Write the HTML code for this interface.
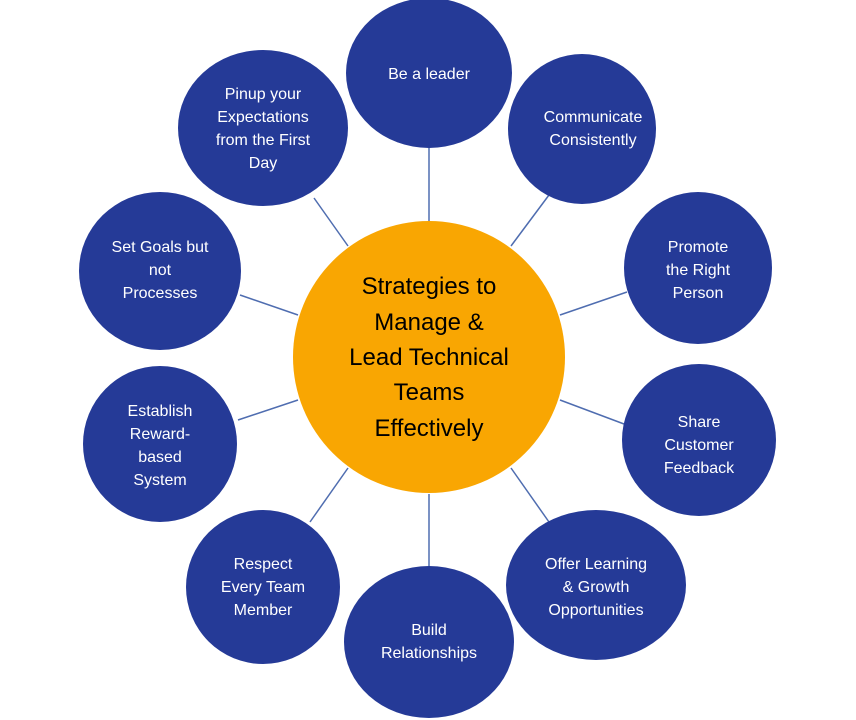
<!DOCTYPE html>
<html><head><meta charset="utf-8"><style>
html,body{margin:0;padding:0;background:#fff;}
svg{display:block;}
text{font-family:"Liberation Sans",sans-serif;}
</style></head><body>
<svg width="856" height="720" viewBox="0 0 856 720" xmlns="http://www.w3.org/2000/svg">
<g stroke="#4f6db0" stroke-width="1.5">
<line x1="429" y1="222" x2="429" y2="148"/>
<line x1="511" y1="246" x2="549" y2="195"/>
<line x1="560" y1="315" x2="627" y2="292"/>
<line x1="560" y1="400" x2="624" y2="424"/>
<line x1="511" y1="468" x2="549" y2="522"/>
<line x1="429" y1="494" x2="429" y2="568"/>
<line x1="348" y1="468" x2="310" y2="522"/>
<line x1="298" y1="400" x2="238" y2="420"/>
<line x1="298" y1="315" x2="240" y2="295"/>
<line x1="348" y1="246" x2="314" y2="198"/>
</g>
<g fill="#253a97">
<ellipse cx="429" cy="73" rx="83" ry="75"/>
<ellipse cx="582" cy="129" rx="74" ry="75"/>
<ellipse cx="698" cy="268" rx="74" ry="76"/>
<ellipse cx="699" cy="440" rx="77" ry="76"/>
<ellipse cx="596" cy="585" rx="90" ry="75"/>
<ellipse cx="429" cy="642" rx="85" ry="76"/>
<ellipse cx="263" cy="587" rx="77" ry="77"/>
<ellipse cx="160" cy="444" rx="77" ry="78"/>
<ellipse cx="160" cy="271" rx="81" ry="79"/>
<ellipse cx="263" cy="128" rx="85" ry="78"/>
</g>
<circle cx="429" cy="357" r="136" fill="#f9a602"/>
<g fill="#000" font-size="24" text-anchor="middle">
<text x="429" y="294">Strategies to</text>
<text x="429" y="330">Manage &amp;</text>
<text x="429" y="365">Lead Technical</text>
<text x="429" y="400">Teams</text>
<text x="429" y="436">Effectively</text>
</g>
<g fill="#fff" font-size="16" text-anchor="middle">
<text x="429" y="79">Be a leader</text>
<text x="593" y="122">Communicate</text><text x="593" y="145">Consistently</text>
<text x="698" y="252">Promote</text><text x="698" y="275">the Right</text><text x="698" y="298">Person</text>
<text x="699" y="427">Share</text><text x="699" y="450">Customer</text><text x="699" y="473">Feedback</text>
<text x="596" y="569">Offer Learning</text><text x="596" y="592">&amp; Growth</text><text x="596" y="615">Opportunities</text>
<text x="429" y="635">Build</text><text x="429" y="658">Relationships</text>
<text x="263" y="569">Respect</text><text x="263" y="592">Every Team</text><text x="263" y="615">Member</text>
<text x="160" y="416">Establish</text><text x="160" y="439">Reward-</text><text x="160" y="462">based</text><text x="160" y="485">System</text>
<text x="160" y="252">Set Goals but</text><text x="160" y="275">not</text><text x="160" y="298">Processes</text>
<text x="263" y="99">Pinup your</text><text x="263" y="122">Expectations</text><text x="263" y="145">from the First</text><text x="263" y="168">Day</text>
</g>
</svg>
</body></html>
